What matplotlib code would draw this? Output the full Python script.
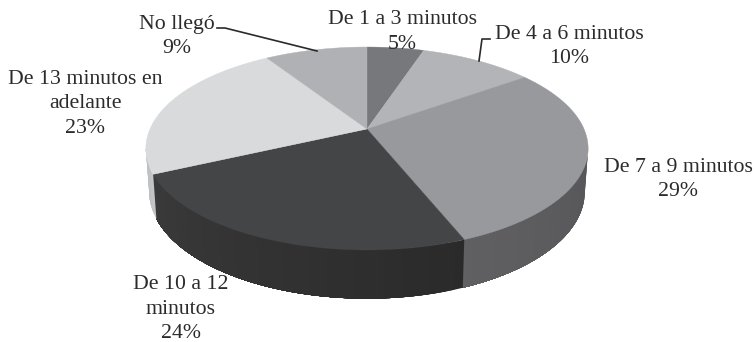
import numpy as np
import matplotlib
matplotlib.use("Agg")
import matplotlib.pyplot as plt
from matplotlib.patches import Polygon

plt.rcParams['font.family'] = ['Liberation Serif', 'DejaVu Serif']

# Share of responses per category, clockwise from twelve o'clock
categories = ["De 1 a 3 minutos", "De 4 a 6 minutos", "De 7 a 9 minutos",
              "De 10 a 12\nminutos", "De 13 minutos en\nadelante", "No llegó"]
values = [5, 10, 29, 24, 23, 9]
top_colors = ["#77787b", "#b3b4b7", "#98999c", "#444547", "#d9dadc", "#b0b1b4"]
side_start = ["#4a4a4c", "#77787a", "#56565a", "#2b2a2b", "#c4c5c7", "#77787a"]
side_end = ["#4a4a4c", "#77787a", "#606062", "#3a3a3b", "#bcbdbf", "#77787a"]

label_x = [402, 569, 678, 181, 85, 177]
label_y = [32, 46.5, 179.5, 309, 104, 36.5]

# Perspective disc parameters, in pixels
CX, CY = 367.0, 129.0
A, B, K = 217.0, 97.7, 0.192
DEPTH = 42.0


def project(theta):
    """Map disc angles (clockwise from the far point) to the top face."""
    u, v = np.sin(theta), np.cos(theta)
    w = 1 + K * v
    return CX + A * u / w, CY - B * v / w


def project_bottom(theta):
    """Same mapping for the lower rim of the extruded disc."""
    x, y = project(theta)
    w = 1 + K * np.cos(theta)
    return CX + (x - CX) * 0.985, y + DEPTH / w ** 0.7


def mix(c0, c1, t):
    a = np.array(matplotlib.colors.to_rgb(c0))
    b = np.array(matplotlib.colors.to_rgb(c1))
    return tuple(a + (b - a) * t)


fig = plt.figure(figsize=(7.56, 3.42), dpi=100, facecolor="white")
ax = fig.add_axes([0, 0, 1, 1])
ax.set_xlim(0, 756)
ax.set_ylim(342, 0)
ax.axis("off")

edges = np.radians(np.concatenate([[0], np.cumsum(values)]) * 3.6)
vis_lo = np.arccos(-K)
vis_hi = 2 * np.pi - vis_lo

# Outer wall: each strip runs on to the end of its slice, and the next
# one paints over it, so no seams show between neighbouring shades
for i in range(len(values)):
    lo, hi = max(edges[i], vis_lo), min(edges[i + 1], vis_hi)
    if hi <= lo:
        continue
    steps = np.linspace(lo, hi, max(int(np.degrees(hi - lo)) // 2, 2) + 1)
    for j in range(len(steps) - 1):
        t = np.linspace(steps[j], hi, 80)
        xt, yt = project(t)
        xb, yb = project_bottom(t)
        pts = np.column_stack([np.r_[xt, xb[::-1]], np.r_[yt, yb[::-1]]])
        col = mix(side_start[i], side_end[i], (j + 0.5) / (len(steps) - 1))
        ax.add_patch(Polygon(pts, closed=True, facecolor=col, edgecolor="none",
                             zorder=2 + i * 0.01 + j * 0.0001))

# Top face wedges
for i in range(len(values)):
    t = np.linspace(edges[i], edges[i + 1], 120)
    x, y = project(t)
    pts = np.column_stack([np.r_[CX, x], np.r_[CY, y]])
    ax.add_patch(Polygon(pts, closed=True, facecolor=top_colors[i],
                         edgecolor=top_colors[i], linewidth=0.3, zorder=3))

# Leader lines for the two labels set away from their slices
ax.plot([217, 225, 317], [28, 28, 51], color="#2a2a2a", lw=1.2, zorder=4)
ax.plot([490, 482, 479], [39, 39, 61], color="#2a2a2a", lw=1.2, zorder=4)

# Category labels with percentages
for name, val, lx, ly in zip(categories, values, label_x, label_y):
    ax.text(lx, ly, f"{name}\n{val}%", ha="center", va="center",
            fontsize=15.7, color="#2b2b2b", linespacing=1.38, zorder=5)

fig.savefig("out.png", dpi=100)
